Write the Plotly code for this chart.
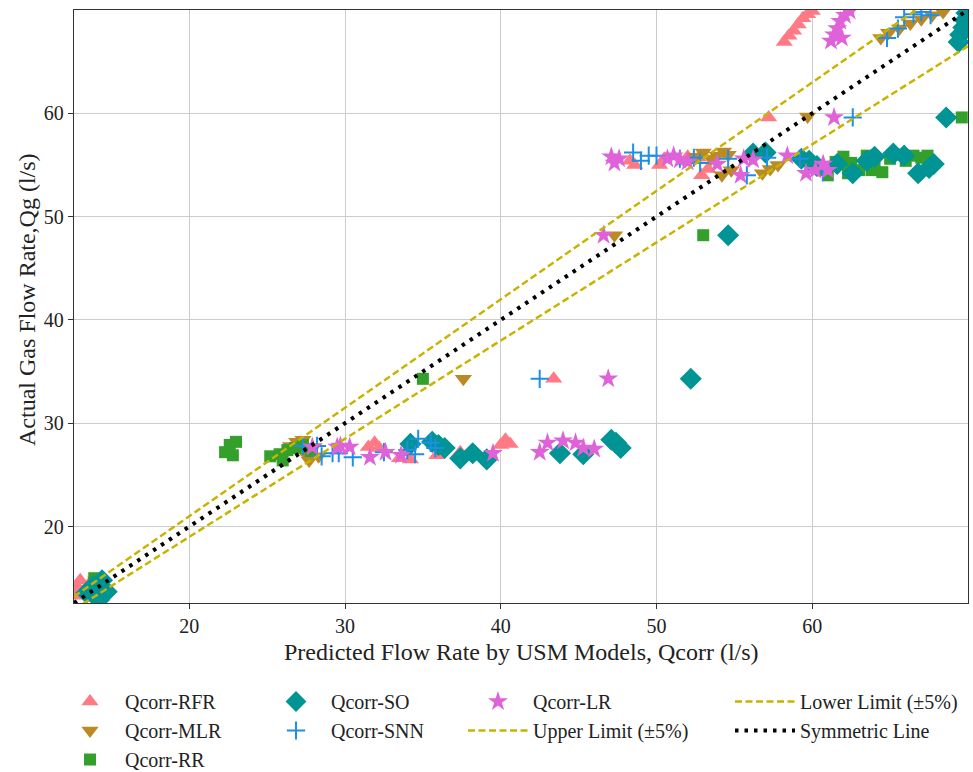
import plotly.graph_objects as go

# ---------------- data ----------------
rfr_x = [12.7, 12.8, 13.0, 13.3, 13.6,
         31.5, 31.9, 32.2, 33.5, 33.9, 34.2, 35.9, 37.4, 40.0, 40.3, 40.6,
         43.4,
         48.3, 48.6, 50.2, 50.5, 52.0, 52.7, 52.9, 53.3,
         57.2,
         58.2, 58.5, 58.8, 59.1, 59.4, 59.7, 60.0]
rfr_y = [13.3, 14.2, 14.8, 13.9, 14.5,
         27.7, 28.1, 27.6, 26.6, 27.2, 26.5, 26.9, 27.2, 27.9, 28.4, 28.0,
         34.3,
         55.4, 55.0, 55.0, 55.6, 55.8, 55.7, 54.0, 54.6,
         59.6,
         66.9, 67.5, 68.0, 68.6, 69.2, 69.6, 69.9]

mlr_x = [14.0,
         26.5, 26.9, 27.2, 27.5, 27.7, 28.0, 28.3, 27.3,
         37.6, 47.3,
         52.5, 53.0, 53.5, 53.9, 54.3, 54.6, 54.2, 54.8, 56.8, 57.3, 57.8,
         59.7,
         64.4, 64.9, 65.6, 66.3, 67.0, 67.7, 68.4]
mlr_y = [14.8,
         27.8, 28.2, 27.5, 27.0, 26.4, 27.7, 26.8, 28.4,
         34.3, 48.2,
         55.8, 56.2, 55.6, 55.9, 56.3, 56.0, 54.0, 54.5, 54.2, 54.6, 55.0,
         59.7,
         67.3, 67.8, 68.2, 68.7, 69.1, 69.5, 69.8]

rr_x = [13.9, 14.2,
        22.3, 22.6, 23.0, 22.8, 25.2, 25.8, 26.3, 26.8, 27.3, 27.8, 26.0,
        35.0, 53.0,
        60.6, 61.0, 61.5, 62.0, 62.5, 63.0, 63.5, 64.0, 64.5, 65.0, 65.5,
        66.0, 66.5, 67.0, 67.4, 62.3, 63.8,
        69.6]
rr_y = [15.0, 14.6,
        27.2, 27.9, 28.2, 26.9, 26.8, 27.0, 27.4, 27.6, 27.9, 27.3, 26.4,
        34.3, 48.2,
        54.5, 54.0, 55.3, 55.8, 55.2, 54.5, 55.9, 55.0, 54.3, 55.6, 56.0,
        55.4, 55.9, 55.7, 55.9, 54.2, 54.5,
        59.6]

so_x = [13.4, 13.8, 14.1, 14.4, 14.7, 14.2,
        34.2, 35.6, 36.0, 36.4, 37.4, 38.2, 39.1, 43.8, 45.3, 47.1, 47.4, 47.7,
        52.2, 54.6,
        56.2, 57.0, 59.3, 59.8, 60.3, 61.6, 62.6, 63.5, 64.0, 65.2, 65.9,
        66.8, 67.5, 67.8,
        68.6,
        69.4, 69.5, 69.7, 69.8, 69.9]
so_y = [13.6, 14.2, 13.3, 14.8, 13.7, 12.9,
        28.0, 28.2, 27.9, 27.6, 26.6, 27.1, 26.5, 27.1, 27.0, 28.4, 28.1, 27.6,
        34.3, 48.2,
        56.1, 56.2, 55.6, 55.4, 54.9, 55.1, 54.2, 55.4, 55.8, 56.1, 55.9,
        54.2, 54.7, 55.1,
        59.6,
        66.9, 67.6, 68.3, 69.0, 69.7]

snn_x = [27.3, 28.2, 28.5, 29.2, 29.6, 30.5, 32.5, 34.0, 34.5, 34.7, 35.5, 35.8,
         42.5,
         48.5, 49.0, 49.5, 50.0, 51.5, 52.4, 52.8, 54.6, 55.8, 57.1, 59.2, 60.7,
         62.6,
         64.8, 65.5, 65.9, 66.5, 67.0, 67.6]
snn_y = [27.8, 27.8, 26.8, 27.1, 27.1, 26.7, 27.2, 27.4, 27.0, 28.5, 28.1, 27.6,
         34.3,
         56.2, 55.4, 55.9, 55.9, 55.6, 55.7, 55.2, 55.6, 54.0, 55.7, 55.6, 54.3,
         59.6,
         67.3, 68.2, 69.3, 69.6, 69.8, 69.5]

lr_x = [27.9, 29.5, 29.7, 30.3, 31.6, 32.6, 33.6, 39.5, 42.5, 43.0, 44.0, 44.8, 45.3, 46.0,
        46.9, 46.6,
        47.1, 47.3, 47.6, 50.7, 51.1, 51.5, 52.0, 53.9, 55.4, 55.6, 56.2, 58.4,
        59.6, 60.2, 60.7, 61.0,
        61.4,
        61.2, 61.4, 61.6, 61.8, 62.1, 62.4, 61.9]
lr_y = [27.7, 27.7, 27.8, 27.7, 26.7, 27.2, 26.9, 27.1, 27.2, 28.1, 28.3, 28.1, 27.6, 27.5,
        34.3, 48.2,
        55.8, 55.2, 55.6, 55.6, 55.9, 55.5, 55.3, 55.1, 54.0, 55.6, 55.5, 55.9,
        54.2, 54.5, 55.1, 54.5,
        59.6,
        67.0, 67.6, 68.2, 68.9, 69.5, 69.9, 67.3]

axis_range = [12.6, 70.0]
tick_vals = [20, 30, 40, 50, 60]
line_x = [12.6, 70.0]
upper_y = [v * 1.05 for v in line_x]
lower_y = [v * 0.95 for v in line_x]

x_title = "Predicted Flow Rate by USM Models, Qcorr (l/s)"
y_title = "Actual Gas Flow Rate,Qg (l/s)"

# ---------------- figure ----------------
FONT = "Liberation Serif, Times New Roman, serif"
fig = go.Figure()

def scat(x, y, name, symbol, color, size, legend, rank, thin=False):
    marker = dict(symbol=symbol, color=color, size=size)
    if thin:
        marker["line"] = dict(color=color, width=2)
    else:
        marker["line"] = dict(width=0)
    fig.add_trace(go.Scatter(x=x, y=y, mode="markers", name=name, marker=marker,
                             legend=legend, legendrank=rank))

scat(rfr_x, rfr_y, "Qcorr-RFR", "triangle-up", "#FF7A85", 15, "legend", 1)
scat(mlr_x, mlr_y, "Qcorr-MLR", "triangle-down", "#BC8A25", 15, "legend", 2)
scat(rr_x, rr_y, "Qcorr-RR", "square", "#33A02C", 12, "legend", 3)
scat(so_x, so_y, "Qcorr-SO", "diamond", "#009494", 17, "legend2", 4)
scat(snn_x, snn_y, "Qcorr-SNN", "cross-thin", "#1E8FE6", 13, "legend2", 5, thin=True)
scat(lr_x, lr_y, "Qcorr-LR", "star", "#E062D9", 15, "legend3", 6)

fig.add_trace(go.Scatter(x=line_x, y=upper_y, mode="lines", name="Upper Limit (±5%)",
                         line=dict(color="#C8B400", width=2.5, dash="7px,3.5px"),
                         legend="legend3", legendrank=7))
fig.add_trace(go.Scatter(x=line_x, y=lower_y, mode="lines", name="Lower Limit (±5%)",
                         line=dict(color="#C8B400", width=2.5, dash="7px,3.5px"),
                         legend="legend4", legendrank=8))
fig.add_trace(go.Scatter(x=line_x, y=line_x, mode="lines", name="Symmetric Line",
                         line=dict(color="black", width=4, dash="3.5px,6px"),
                         legend="legend4", legendrank=9))

axis_common = dict(range=axis_range, tickvals=tick_vals, showgrid=True,
                   gridcolor="#CCCCCC", gridwidth=1, showline=True, linecolor="#333333",
                   linewidth=1.3, mirror=True, ticks="outside", ticklen=5,
                   tickcolor="#333333", zeroline=False,
                   tickfont=dict(family=FONT, size=20, color="#222222"))

fig.update_xaxes(**axis_common)
fig.update_yaxes(**axis_common)

# axis titles as paper-referenced annotations (plot area: x 74..968, y 10..603 px)
fig.add_annotation(text=x_title, x=0.5, y=-(652 - 603) / (603 - 10),
                   xref="paper", yref="paper", showarrow=False,
                   xanchor="center", yanchor="middle",
                   font=dict(family=FONT, size=24, color="#222222"))
fig.add_annotation(text=y_title, x=-(74 - 27) / (968 - 74), y=(603 - 300) / (603 - 10),
                   xref="paper", yref="paper", showarrow=False, textangle=-90,
                   xanchor="center", yanchor="middle",
                   font=dict(family=FONT, size=24, color="#222222"))

def leg(xpx):
    return dict(x=xpx / 973, y=1 - 682 / 772, xref="container", yref="container",
                xanchor="left", yanchor="top", orientation="v",
                font=dict(family=FONT, size=20, color="#222222"),
                bgcolor="rgba(0,0,0,0)", itemwidth=60, tracegroupgap=0)

fig.update_layout(
    width=973, height=772,
    margin=dict(l=74, r=5, t=10, b=169, autoexpand=False),
    plot_bgcolor="white", paper_bgcolor="white",
    legend=leg(55), legend2=leg(261), legend3=leg(463), legend4=leg(730),
)

fig.write_html("out.html")
